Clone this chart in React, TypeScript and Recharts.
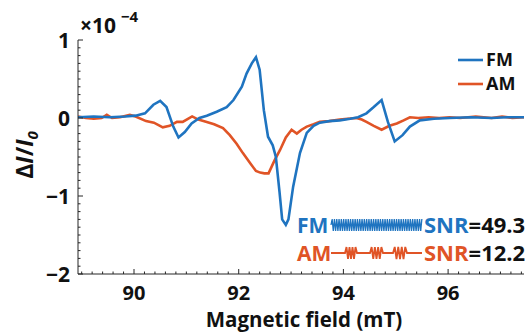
import { LineChart, Line, XAxis, YAxis } from 'recharts';

document.body.style.margin = '0';

// FM (frequency modulation) trace, units of 1e-4
const fmField = [
  88.93, 89.23, 89.53, 89.83, 90.03, 90.21, 90.37, 90.5, 90.62, 90.75, 90.85, 90.97, 91.1,
  91.25, 91.39, 91.58, 91.77, 91.9, 92.06, 92.15, 92.25, 92.33, 92.4, 92.48, 92.56, 92.65,
  92.71, 92.78, 92.83, 92.9, 92.95, 93.04, 93.17, 93.3, 93.43, 93.55, 93.73, 93.93, 94.13,
  94.28, 94.44, 94.58, 94.73, 94.85, 94.98, 95.13, 95.27, 95.46, 95.73, 96.03, 96.43, 96.83,
  97.13, 97.45,
];
const fmSignal = [
  0.01, 0.02, 0.01, 0.02, 0.03, 0.06, 0.17, 0.22, 0.14, -0.11, -0.25, -0.18, -0.07,
  0.0, 0.03, 0.08, 0.14, 0.23, 0.4, 0.57, 0.7, 0.78, 0.62, 0.1, -0.24, -0.35,
  -0.5, -0.95, -1.3, -1.37, -1.3, -0.88, -0.45, -0.19, -0.1, -0.06, -0.04, -0.03, -0.01,
  0.01, 0.06, 0.14, 0.23, -0.05, -0.3, -0.22, -0.11, -0.03, -0.01, 0.0, 0.01, 0.0,
  0.01, 0.01,
];

// AM (amplitude modulation) trace
const amField = [
  88.93, 89.08, 89.23, 89.38, 89.48, 89.58, 89.73, 89.92, 90.03, 90.23, 90.38, 90.55, 90.68,
  90.82, 90.93, 91.03, 91.11, 91.23, 91.39, 91.53, 91.7, 91.83, 91.96, 92.08, 92.22, 92.33,
  92.41, 92.49, 92.57, 92.68, 92.79, 92.9, 93.01, 93.11, 93.2, 93.3, 93.43, 93.55, 93.73,
  93.93, 94.08, 94.25, 94.35, 94.44, 94.58, 94.73, 94.88, 95.02, 95.15, 95.27, 95.43, 95.63,
  95.83, 96.03, 96.23, 96.53, 96.83, 97.03, 97.23, 97.45,
];
const amSignal = [
  0.02, 0.0, -0.01, 0.0, 0.04, 0.0, 0.01, 0.04, 0.02, -0.04, -0.06, -0.12, -0.1,
  -0.05, -0.05, -0.01, 0.02, -0.02, -0.05, -0.08, -0.13, -0.22, -0.33, -0.45, -0.58, -0.68,
  -0.7, -0.71, -0.71, -0.55, -0.41, -0.25, -0.15, -0.2, -0.15, -0.11, -0.08, -0.05, -0.04,
  -0.02, -0.01, 0.0, -0.02, -0.05, -0.1, -0.15, -0.1, -0.07, -0.03, 0.01, 0.0, 0.01,
  0.0, 0.01, 0.0, 0.02, 0.0, 0.02, 0.0, 0.01,
];

const xMajorTicks = [90, 92, 94, 96];
const yMajorTicks = [1, 0, -1, -2];
const yTickLabels = ['1', '0', '\u22121', '\u22122'];
const seriesNames = ['FM', 'AM'];
const snrValues = ['49.3', '12.2'];

const FM_COLOR = '#1f74c0';
const AM_COLOR = '#e05426';
const AXIS = '#262626';
const FONT = "'Open Sans', 'Liberation Sans', sans-serif";

const fmData = fmField.map((x, i) => ({ x, y: fmSignal[i] }));
const amData = amField.map((x, i) => ({ x, y: amSignal[i] }));

// minor ticks every 0.2 mT and every 0.1 on y
const xTicks = Array.from({ length: 43 }, (_, i) => Math.round((89 + i * 0.2) * 10) / 10);
const yTicks = Array.from({ length: 31 }, (_, i) => Math.round((-2 + i * 0.1) * 10) / 10);

const isMajor = (v: number, list: number[]) => list.some((m) => Math.abs(m - v) < 1e-6);

const XTick = ({ x, y, payload }: any) => {
  const major = isMajor(payload.value, xMajorTicks);
  return (
    <g>
      <line x1={x} x2={x} y1={y} y2={y - (major ? 5 : 2.5)} stroke={AXIS} strokeWidth={1} />
      {major && (
        <text x={x} y={y + 26} textAnchor="middle" fontSize={20} fontWeight={700} fill="#111" fontFamily={FONT}>
          {payload.value}
        </text>
      )}
    </g>
  );
};

const YTick = ({ x, y, payload }: any) => {
  const idx = yMajorTicks.findIndex((m) => Math.abs(m - payload.value) < 1e-6);
  const major = idx >= 0;
  return (
    <g>
      <line x1={x} x2={x + (major ? 5 : 2.5)} y1={y} y2={y} stroke={AXIS} strokeWidth={1} />
      {major && (
        <text x={x - 8} y={y + 7.5} textAnchor="end" fontSize={21} fontWeight={700} fill="#111" fontFamily={FONT}>
          {yTickLabels[idx]}
        </text>
      )}
    </g>
  );
};

function fmWave(x0: number, x1: number, cy: number) {
  let d = `M${x0},${cy}`;
  let i = 0;
  for (let x = x0 + 1.15; x <= x1; x += 1.15) {
    i++;
    d += ` L${x.toFixed(2)},${cy + (i % 2 ? -6 : 6)}`;
  }
  return d;
}

function amWave(x0: number, x1: number, cy: number, bursts: number[][]) {
  let d = `M${x0},${cy}`;
  bursts.forEach(([a, b]) => {
    d += ` L${a},${cy}`;
    const n = 8;
    const step = (b - a) / n;
    for (let k = 1; k < n; k++) d += ` L${(a + k * step).toFixed(2)},${cy + (k % 2 ? -6 : 6)}`;
    d += ` L${b},${cy}`;
  });
  d += ` L${x1},${cy}`;
  return d;
}

export default function App() {
  return (
    <div style={{ position: 'relative', width: 532, height: 333, background: '#fff' }}>
      <LineChart width={532} height={333} margin={{ top: 40, right: 8, bottom: 29, left: 18 }}>
        <XAxis
          type="number"
          dataKey="x"
          domain={[88.93, 97.45]}
          ticks={xTicks}
          interval={0}
          allowDataOverflow
          height={30}
          tickSize={0}
          tickMargin={0}
          tickLine={false}
          axisLine={{ stroke: AXIS, strokeWidth: 1 }}
          tick={(p: any) => <XTick {...p} />}
        />
        <YAxis
          type="number"
          dataKey="y"
          domain={[-2, 1]}
          ticks={yTicks}
          interval={0}
          allowDataOverflow
          width={60}
          tickSize={0}
          tickMargin={0}
          tickLine={false}
          axisLine={{ stroke: AXIS, strokeWidth: 1 }}
          tick={(p: any) => <YTick {...p} />}
        />
        <Line data={amData} dataKey="y" name="AM" type="linear" stroke={AM_COLOR} strokeWidth={2.6} dot={false} isAnimationActive={false} />
        <Line data={fmData} dataKey="y" name="FM" type="linear" stroke={FM_COLOR} strokeWidth={2.6} dot={false} isAnimationActive={false} />
      </LineChart>

      <svg width={532} height={333} style={{ position: 'absolute', left: 0, top: 0, pointerEvents: 'none' }} fontFamily={FONT}>
        {/* exponent */}
        <text x={80} y={33} fontSize={21} fontWeight={700} fill="#111">
          ×10
        </text>
        <text x={121} y={22} fontSize={15} fontWeight={700} fill="#111">
          {'\u22124'}
        </text>

        {/* y label */}
        <g transform="translate(33,155) rotate(-90)">
          <text x={0} y={0} textAnchor="middle" fontSize={23} fontWeight={700} fill="#111">
            Δ<tspan fontStyle="italic">I</tspan>/<tspan fontStyle="italic">I</tspan>
            <tspan fontSize={15} dy={5} fontStyle="italic">0</tspan>
          </text>
        </g>

        {/* x label */}
        <text x={304} y={327} textAnchor="middle" fontSize={20.5} fontWeight={700} fill="#111">
          Magnetic field (mT)
        </text>

        {/* legend */}
        <line x1={458} x2={483} y1={60} y2={60} stroke={FM_COLOR} strokeWidth={2.6} />
        <text x={486} y={66} fontSize={18} fontWeight={700} fill="#111">{seriesNames[0]}</text>
        <line x1={458} x2={483} y1={84} y2={84} stroke={AM_COLOR} strokeWidth={2.6} />
        <text x={486} y={90} fontSize={18} fontWeight={700} fill="#111">{seriesNames[1]}</text>

        {/* SNR annotations */}
        <text x={297} y={233} fontSize={21} fontWeight={700} fill={FM_COLOR}>{seriesNames[0]}</text>
        <path d={fmWave(331, 422, 225)} stroke={FM_COLOR} strokeWidth={1.3} fill="none" />
        <text x={424} y={233} fontSize={22} fontWeight={700} fill={FM_COLOR}>
          SNR<tspan fill="#111">={snrValues[0]}</tspan>
        </text>

        <text x={297} y={261} fontSize={21} fontWeight={700} fill={AM_COLOR}>{seriesNames[1]}</text>
        <path
          d={amWave(331, 422, 253, [[345, 357], [370, 383], [393, 407]])}
          stroke={AM_COLOR}
          strokeWidth={1.8}
          fill="none"
        />
        <text x={424} y={261} fontSize={22} fontWeight={700} fill={AM_COLOR}>
          SNR<tspan fill="#111">={snrValues[1]}</tspan>
        </text>
      </svg>
    </div>
  );
}
